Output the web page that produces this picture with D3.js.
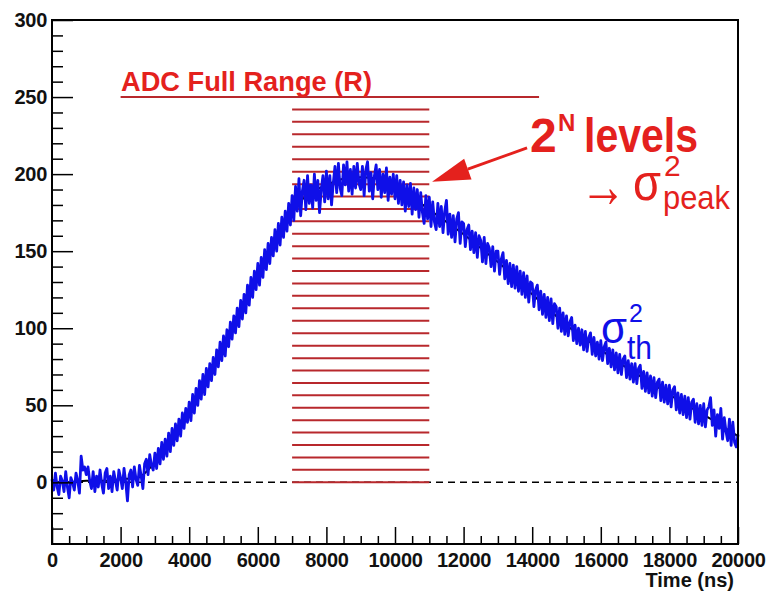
<!DOCTYPE html>
<html><head><meta charset="utf-8">
<script src="https://cdn.jsdelivr.net/npm/d3@7"></script>
<style>
html,body{margin:0;padding:0;background:#fff;}
svg text{font-family:"Liberation Sans",Arial,Helvetica,sans-serif;}
</style></head>
<body><svg id="c" width="766" height="595"></svg>
<script>
// ---- data ----
const xTickLabels = [0,2000,4000,6000,8000,10000,12000,14000,16000,18000,20000];
const yTickLabels = [0,50,100,150,200,250,300];
const sampleStart = 0, sampleStep = 50;           // ns
const signal = [
2,-5,6,-3,-8,4,1,-6,7,-3,-10,3,0,-5,6,1,-7,17,8,10,
5,10,1,-4,7,-6,4,-3,8,-1,-7,6,9,-4,4,-6,7,1,-5,8,
3,-4,9,0,-12,5,8,-3,10,2,-2,11,4,-4,12,15,5,18,11,8,
19,9,22,12,26,15,28,17,32,20,35,24,38,27,41,30,45,35,48,39,
52,40,57,45,61,50,66,54,70,57,74,62,77,66,81,70,86,75,91,79,
95,82,99,88,104,93,108,97,113,101,118,106,122,110,128,115,133,120,137,125,
142,128,146,133,151,138,155,142,159,147,164,150,168,154,172,159,176,163,181,167,
186,170,192,176,197,173,189,196,177,199,181,193,178,200,183,196,175,190,199,182,
202,184,199,180,194,205,188,207,191,186,206,193,208,189,203,187,205,191,207,194,
190,205,186,203,208,189,201,184,199,206,190,203,185,200,188,204,183,198,187,200,
184,199,181,196,180,195,176,193,179,194,174,191,177,190,172,188,175,168,186,171,
185,166,182,169,164,181,166,179,162,176,183,161,174,159,173,156,171,175,155,169,
168,153,164,167,151,163,149,162,146,160,157,143,159,142,155,152,140,153,137,150,
150,135,145,149,132,144,129,142,127,141,126,140,124,137,122,136,120,134,117,130,
129,114,125,128,112,124,109,122,107,120,105,119,103,116,114,100,113,98,110,96,
108,95,104,107,92,102,90,100,89,99,86,98,85,94,97,83,94,82,91,80,
92,79,88,91,77,87,75,86,73,84,71,83,70,80,82,68,79,67,77,65,
77,64,74,76,61,72,59,71,58,69,56,68,55,65,67,53,65,52,63,51,
63,49,60,62,47,58,45,57,44,56,42,55,41,52,54,39,51,38,50,37,
51,36,47,49,55,37,47,30,44,35,48,28,42,33,27,41,24,39,26,23,31
];
const fitTimes  = [0,500,1000,1500,2000,2500,3000,3500,4000,4500,5000,5500,6000,6500,7000,7500,8000,8500,9000,9500,10000,10500,11000,11500,12000,12500,13000,13500,14000,14500,15000,15500,16000,16500,17000,17500,18000,18500,19000,19500,20000];
const fitValues = [0,0,1,1,2,3,13,28,46,67,88,111,135,157,177,187,193,197,198,197,192,185,177,169,161,152,143,133,122,112,102,94,86,78,71,64,57,50,44,37,30];
const adcLevels = [0,8.1,16.1,24.2,32.3,40.3,48.4,56.5,64.5,72.6,80.6,88.7,96.8,104.8,112.9,121.0,129.0,137.1,145.2,153.2,161.3,169.4,177.4,185.5,193.5,201.6,209.7,217.7,225.8,233.9,241.9];
const adcLevelRange = [7000, 11000];
const adcFullRange = {value: 250, from: 2000, to: 14200};

// ---- chart ----
const svg = d3.select("#c");
const L=52, R=738, T=20, B=544;
const x = d3.scaleLinear().domain([0,20000]).range([L,R]);
const y = d3.scaleLinear().domain([-40,300]).range([B,T]);
const red = "#e4211d", lineRed = "#b8282c", blue = "#0f0fe8";

// dashed zero line
svg.append("line").attr("x1",x(0)).attr("x2",x(20000)).attr("y1",y(0)).attr("y2",y(0))
  .attr("stroke","#000").attr("stroke-width",1.5).attr("stroke-dasharray","7,5");

// quantisation levels
svg.append("g").selectAll("line").data(adcLevels).join("line")
  .attr("x1",x(adcLevelRange[0])).attr("x2",x(adcLevelRange[1]))
  .attr("y1",d=>y(d)).attr("y2",d=>y(d))
  .attr("stroke",lineRed).attr("stroke-width",2);
// full range line
svg.append("line").attr("x1",x(adcFullRange.from)).attr("x2",x(adcFullRange.to))
  .attr("y1",y(adcFullRange.value)).attr("y2",y(adcFullRange.value))
  .attr("stroke",lineRed).attr("stroke-width",2);

// fit (under the signal)
const fitPts = fitTimes.map((t,i)=>[t,fitValues[i]]);
svg.append("path").datum(fitPts)
  .attr("d", d3.line().curve(d3.curveMonotoneX).x(d=>x(d[0])).y(d=>y(d[1])))
  .attr("fill","none").attr("stroke","#000").attr("stroke-width",2);
// signal
const pts = signal.map((v,i)=>[sampleStart+i*sampleStep, v]);
svg.append("path").datum(pts)
  .attr("d", d3.line().x(d=>x(d[0])).y(d=>y(d[1])))
  .attr("fill","none").attr("stroke",blue).attr("stroke-width",2.8).attr("stroke-linejoin","round");

// axes
const xMinor = d3.range(0,20001,500).filter(v=>v%2000!==0);
const yMinor = d3.range(-30,301,10).filter(v=>v%50!==0);
function styleAxis(g){ g.select(".domain").remove(); g.selectAll("line").attr("stroke","#000").attr("stroke-width",1.5); }
function styleText(g){ g.selectAll("text").attr("font-size",20).attr("font-weight","bold").attr("fill","#111")
     .attr("letter-spacing","-0.3").attr("font-family","Liberation Sans, Arial, sans-serif"); }
svg.append("g").attr("transform",`translate(0,${B})`)
  .call(d3.axisBottom(x).tickValues(xMinor).tickSize(-8).tickFormat("")).call(styleAxis);
svg.append("g").attr("transform",`translate(0,${B})`)
  .call(d3.axisBottom(x).tickValues(xTickLabels).tickSize(-17).tickPadding(9).tickFormat(d3.format("d")))
  .call(styleAxis).call(styleText);
svg.append("g").attr("transform",`translate(${L},0)`)
  .call(d3.axisLeft(y).tickValues(yMinor).tickSize(-11).tickFormat("")).call(styleAxis);
svg.append("g").attr("transform",`translate(${L},0)`)
  .call(d3.axisLeft(y).tickValues(yTickLabels).tickSize(-21).tickPadding(5).tickFormat(d3.format("d")))
  .call(styleAxis).call(styleText);

// frame
svg.append("rect").attr("x",L).attr("y",T).attr("width",R-L).attr("height",B-T)
  .attr("fill","none").attr("stroke","#000").attr("stroke-width",2);

// axis title
svg.append("text").attr("x",734).attr("y",587).attr("text-anchor","end")
  .attr("font-size",20).attr("font-weight","bold").attr("fill","#111").text("Time (ns)");

// annotations
svg.append("text").attr("x",121).attr("y",91).attr("font-size",28).attr("font-weight","bold")
  .attr("fill",red).attr("textLength",251).attr("lengthAdjust","spacingAndGlyphs").text("ADC Full Range (R)");

svg.append("text").attr("x",530).attr("y",152).attr("font-size",48).attr("font-weight","bold").attr("fill",red).text("2");
svg.append("text").attr("x",558).attr("y",131).attr("font-size",24).attr("font-weight","bold").attr("fill",red).text("N");
svg.append("text").attr("x",584).attr("y",152).attr("font-size",48).attr("font-weight","bold").attr("fill",red)
  .attr("textLength",114).attr("lengthAdjust","spacingAndGlyphs").text("levels");

// arrow
const tail=[13850,217], tip=[11080,195];
const tx=x(tail[0]), ty=y(tail[1]), hx=x(tip[0]), hy=y(tip[1]);
const ang=Math.atan2(ty-hy, tx-hx), hl=38, hw=11;
const bx=hx+hl*Math.cos(ang), by=hy+hl*Math.sin(ang);
svg.append("line").attr("x1",tx).attr("y1",ty).attr("x2",bx).attr("y2",by).attr("stroke",red).attr("stroke-width",3);
svg.append("path").attr("d",`M${hx},${hy}L${bx-hw*Math.sin(ang)},${by+hw*Math.cos(ang)}L${bx+hw*Math.sin(ang)},${by-hw*Math.cos(ang)}Z`).attr("fill",red);

svg.append("text").attr("x",580).attr("y",207).attr("font-size",62).attr("fill",red)
  .attr("font-family","DejaVu Sans").attr("textLength",46).attr("lengthAdjust","spacingAndGlyphs").text("→");
svg.append("text").attr("x",633).attr("y",200).attr("font-size",52).attr("fill",red)
  .attr("font-family","Liberation Serif").attr("textLength",28).attr("lengthAdjust","spacingAndGlyphs").text("σ");
svg.append("text").attr("x",664).attr("y",176).attr("font-size",30).attr("fill",red).text("2");
svg.append("text").attr("x",663).attr("y",209).attr("font-size",34).attr("fill",red)
  .attr("textLength",67).attr("lengthAdjust","spacingAndGlyphs").text("peak");

svg.append("text").attr("x",601).attr("y",343).attr("font-size",44).attr("fill",blue)
  .attr("font-family","Liberation Serif").attr("textLength",26).attr("lengthAdjust","spacingAndGlyphs").text("σ");
svg.append("text").attr("x",629).attr("y",322).attr("font-size",25).attr("fill",blue).text("2");
svg.append("text").attr("x",627).attr("y",359).attr("font-size",33).attr("fill",blue)
  .attr("textLength",25).attr("lengthAdjust","spacingAndGlyphs").text("th");
</script></body></html>
